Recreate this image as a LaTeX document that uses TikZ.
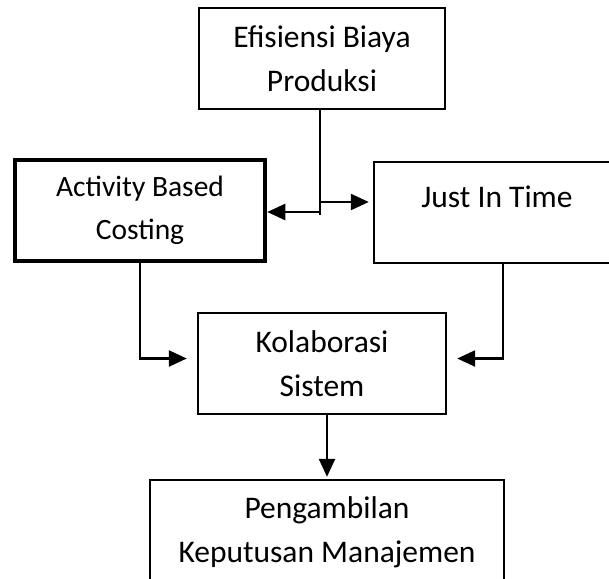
\documentclass[tikz,border=0pt]{standalone}
\usepackage{fontspec}
\setmainfont{Carlito}
\usetikzlibrary{positioning,arrows.meta}

\tikzset{
  box/.style={draw, line width=2.4pt, align=center, inner sep=0pt},
  flow/.style={line width=2.4pt, -{Triangle[length=18pt,width=16pt]}},
  big/.style={font=\fontsize{31.5}{44}\selectfont},
}

\begin{document}
\begin{tikzpicture}[x=1pt, y=-1pt]
  \useasboundingbox (0,0) rectangle (609,578);
  \clip (0,0) rectangle (609,578);

  % Level 0: tujuan
  \node[box, big, minimum width=246pt, minimum height=101pt] (efisiensi) at (322,58.5) {Efisiensi Biaya\\Produksi};

  % Level 1: dua metode
  \node[box, line width=4.5pt, minimum width=250pt, minimum height=101pt,
        font=\fontsize{29.5}{42}\selectfont] (abc) at (140,210.5) {Activity Based\\[1pt]Costing};
  \node[box, minimum width=258pt, minimum height=101pt] (jit) at (503,212.5) {};
  \node[big, anchor=base] (jittext) at (497,207) {Just In Time};

  % Level 2: kolaborasi
  \node[box, big, minimum width=248pt, minimum height=101pt] (kolaborasi) at (322,363.5) {Kolaborasi\\Sistem};

  % Level 3: hasil
  \node[box, big, minimum width=354pt, minimum height=104pt] (keputusan) at (327,532) {Pengambilan\\Keputusan Manajemen};

  % Edges from efisiensi
  \coordinate (fork) at (320,215);
  \coordinate (forkL) at (320,212);
  \coordinate (forkR) at (320,202);
  \draw[line width=2.4pt] (efisiensi.south -| fork) -- (fork);
  \draw[flow] (forkL) -- (forkL -| abc.east);
  \draw[flow, shorten >=4pt] (forkR) -- (forkR -| jit.west);

  % Edges into kolaborasi
  \draw[flow, shorten >=10pt] (abc.south) |- ([yshift=5pt]kolaborasi.west);
  \draw[flow, shorten >=10pt] (jit.south) |- ([yshift=5pt]kolaborasi.east);

  % Edge from kolaborasi
  \draw[flow, shorten >=2pt] (keputusan.north |- kolaborasi.south) -- (keputusan.north);

\end{tikzpicture}
\end{document}
